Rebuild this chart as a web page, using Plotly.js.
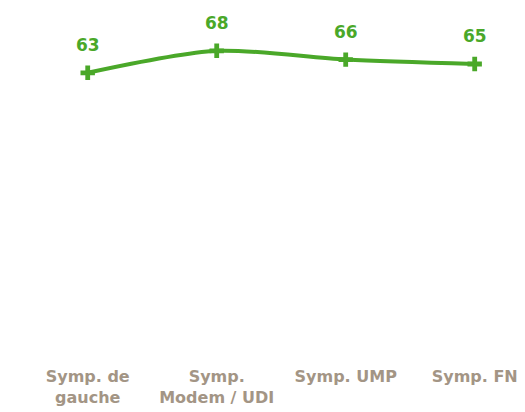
<!DOCTYPE html>
<html><head><meta charset="utf-8">
<script src="https://cdn.plot.ly/plotly-3.0.1.min.js"></script>
<style>html,body{margin:0;padding:0;background:#fff;}#chart{width:525px;height:412px;}</style>
</head><body><div id="chart"></div>
<script>
var categories = ["Symp. de<br>gauche", "Symp.<br>Modem / UDI", "Symp. UMP", "Symp. FN"];
var values = [63, 68, 66, 65];
var green = "#4aa829";

var annotations = categories.map(function(c, i){
  return {x: i, y: values[i], text: String(values[i]), showarrow: false, yshift: 28,
    font: {family: "DejaVu Sans", size: 17, color: green, weight: "bold"}};
});

Plotly.newPlot("chart", [{
  x: categories.map(function(c, i){return i;}),
  y: values,
  type: "scatter",
  mode: "lines+markers",
  line: {color: green, width: 4, shape: "spline", smoothing: 0.8},
  marker: {symbol: "cross", size: 12, color: green},
  hoverinfo: "none"
}], {
  width: 525, height: 412,
  margin: {l: 0, r: 0, t: 20, b: 62},
  paper_bgcolor: "#fff", plot_bgcolor: "#fff",
  showlegend: false,
  xaxis: {range: [-0.68, 3.39], tickmode: "array", tickvals: [0,1,2,3], ticktext: categories,
    showgrid: false, zeroline: false, showline: false, ticks: "outside", ticklen: 12,
    tickcolor: "rgba(0,0,0,0)",
    tickfont: {family: "DejaVu Sans", size: 16, color: "#a39585", weight: "bold"}},
  yaxis: {range: [0, 75], visible: false, showgrid: false, zeroline: false},
  annotations: annotations
}, {displayModeBar: false, staticPlot: true});
</script></body></html>
